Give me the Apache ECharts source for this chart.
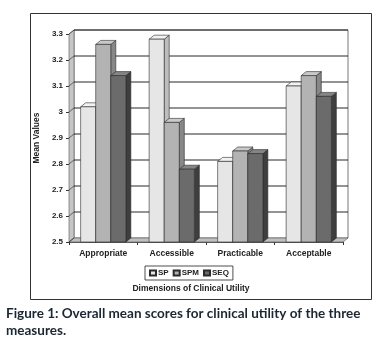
<!DOCTYPE html>
<html>
<head>
<meta charset="utf-8">
<script src="https://cdn.jsdelivr.net/npm/echarts@6/dist/echarts.min.js"></script>
<style>
  html, body { margin: 0; padding: 0; background: #fff; }
  #main { width: 382px; height: 357px; }
</style>
</head>
<body>
<div id="main"></div>
<script>
var categories = ['Appropriate', 'Accessible', 'Practicable', 'Acceptable'];
var seriesNames = ['SP', 'SPM', 'SEQ'];
var spValues = [3.02, 3.28, 2.81, 3.10];
var spmValues = [3.26, 2.96, 2.85, 3.14];
var seqValues = [3.14, 2.78, 2.84, 3.06];
var yTicks = [2.5, 2.6, 2.7, 2.8, 2.9, 3.0, 3.1, 3.2, 3.3];

var yMin = 2.5, yMax = 3.3;
var DX = 5, DY = -4;
var palette = [
  { front: '#e6e6e6', top: '#f2f2f2', side: '#bdbdbd' },
  { front: '#b3b3b3', top: '#c9c9c9', side: '#878787' },
  { front: '#6b6b6b', top: '#858585', side: '#3e3e3e' }
];
var edge = { stroke: '#2a2a2a', lineWidth: 0.6 };

function barRenderer(k) {
  return function (params, api) {
    var cat = api.value(0), v = api.value(1);
    var band = api.size([1, 0])[0];
    var bw = band * 0.22;
    var topPt = api.coord([cat, v]);
    var basePt = api.coord([cat, yMin]);
    var x0 = topPt[0] + (k - 1.5) * bw;
    var x1 = x0 + bw;
    var yt = topPt[1], yb = basePt[1];
    var c = palette[k];
    return {
      type: 'group',
      children: [
        { type: 'polygon', shape: { points: [[x1, yb], [x1, yt], [x1 + DX, yt + DY], [x1 + DX, yb + DY]] },
          style: Object.assign({ fill: c.side }, edge) },
        { type: 'polygon', shape: { points: [[x0, yt], [x1, yt], [x1 + DX, yt + DY], [x0 + DX, yt + DY]] },
          style: Object.assign({ fill: c.top }, edge) },
        { type: 'rect', shape: { x: x0, y: yt, width: bw, height: yb - yt },
          style: Object.assign({ fill: c.front }, edge) }
      ]
    };
  };
}

function wallRenderer(params, api) {
  var cs = params.coordSys;
  var x = cs.x, y = cs.y, w = cs.width, h = cs.height;
  var kids = [];
  // back wall
  kids.push({ type: 'rect', shape: { x: x + DX, y: y + DY, width: w, height: h },
    style: { fill: '#ffffff', stroke: '#555', lineWidth: 0.8 } });
  // left wall
  kids.push({ type: 'polygon', shape: { points: [[x, y + h], [x, y], [x + DX, y + DY], [x + DX, y + h + DY]] },
    style: { fill: '#c6c6c6', stroke: '#555', lineWidth: 0.6 } });
  // floor
  kids.push({ type: 'polygon', shape: { points: [[x, y + h], [x + w, y + h], [x + w + DX, y + h + DY], [x + DX, y + h + DY]] },
    style: { fill: '#bfbfbf', stroke: '#555', lineWidth: 0.6 } });
  yTicks.forEach(function (t) {
    var p = api.coord([0, t]);
    var yy = p[1];
    if (t > yMin) {
      kids.push({ type: 'line', shape: { x1: x + DX, y1: yy + DY, x2: x + w + DX, y2: yy + DY },
        style: { stroke: '#111', lineWidth: 0.9 } });
    }
    kids.push({ type: 'line', shape: { x1: x, y1: yy, x2: x + DX, y2: yy + DY },
      style: { stroke: '#333', lineWidth: 0.7 } });
  });
  return { type: 'group', children: kids };
}

var valueSets = [spValues, spmValues, seqValues];
var series = [{
  name: 'walls',
  type: 'custom',
  renderItem: wallRenderer,
  data: [[0, yMin]],
  encode: { x: 0, y: 1 },
  clip: false,
  silent: true,
  z: 1
}];
valueSets.forEach(function (vals, k) {
  series.push({
    name: seriesNames[k],
    type: 'custom',
    renderItem: barRenderer(k),
    data: vals.map(function (v, i) { return [i, v]; }),
    encode: { x: 0, y: 1 },
    clip: false,
    itemStyle: { color: palette[k].front, borderColor: '#2a2a2a', borderWidth: 0.6 },
    z: 2 + k
  });
});

var chart = echarts.init(document.getElementById('main'));
chart.setOption({
  animation: false,
  textStyle: { fontFamily: 'Liberation Sans' },
  grid: { left: 69, right: 39, top: 34, bottom: 115, containLabel: false },
  legend: {
    data: seriesNames,
    left: 145, top: 266,
    itemWidth: 6, itemHeight: 5, itemGap: 4,
    padding: [3, 4, 3, 4],
    borderColor: '#222', borderWidth: 0.8,
    icon: 'rect',
    textStyle: { fontSize: 8, fontWeight: 'bold', color: '#222', padding: [0, 0, 0, -3] }
  },
  xAxis: {
    type: 'category',
    data: categories,
    axisLine: { lineStyle: { color: '#333', width: 0.8 } },
    axisTick: { show: true, length: 3, lineStyle: { color: '#333' } },
    axisLabel: { fontSize: 8.5, fontWeight: 'bold', color: '#222', margin: 7 },
    splitLine: { show: false }
  },
  yAxis: {
    type: 'value',
    min: yMin, max: yMax, interval: 0.1,
    name: 'Mean Values',
    nameLocation: 'middle',
    nameGap: 28,
    nameTextStyle: { fontSize: 8.5, fontWeight: 'bold', color: '#222' },
    axisLine: { show: true, lineStyle: { color: '#333', width: 0.8 } },
    axisTick: { show: true, length: 3, lineStyle: { color: '#333' } },
    axisLabel: { fontSize: 8, fontWeight: 'bold', color: '#222', margin: 6 },
    splitLine: { show: false }
  },
  graphic: [
    { type: 'rect', left: 28, top: 11, shape: { width: 341, height: 286 },
      style: { fill: 'none', stroke: '#333', lineWidth: 1 }, z: -10 },
    { type: 'text', left: 'center', top: 284,
      style: { text: 'Dimensions of Clinical Utility', fontSize: 8.5, fontWeight: 'bold', fill: '#222', fontFamily: 'Liberation Sans' } },
    { type: 'text', left: 6, top: 307,
      style: { text: 'Figure 1: Overall mean scores for clinical utility of the three', fontSize: 13.5, fontWeight: 'bold', fill: '#1b2733', fontFamily: 'Lato' } },
    { type: 'text', left: 6, top: 324,
      style: { text: 'measures.', fontSize: 13.5, fontWeight: 'bold', fill: '#1b2733', fontFamily: 'Lato' } }
  ],
  series: series
});
</script>
</body>
</html>
